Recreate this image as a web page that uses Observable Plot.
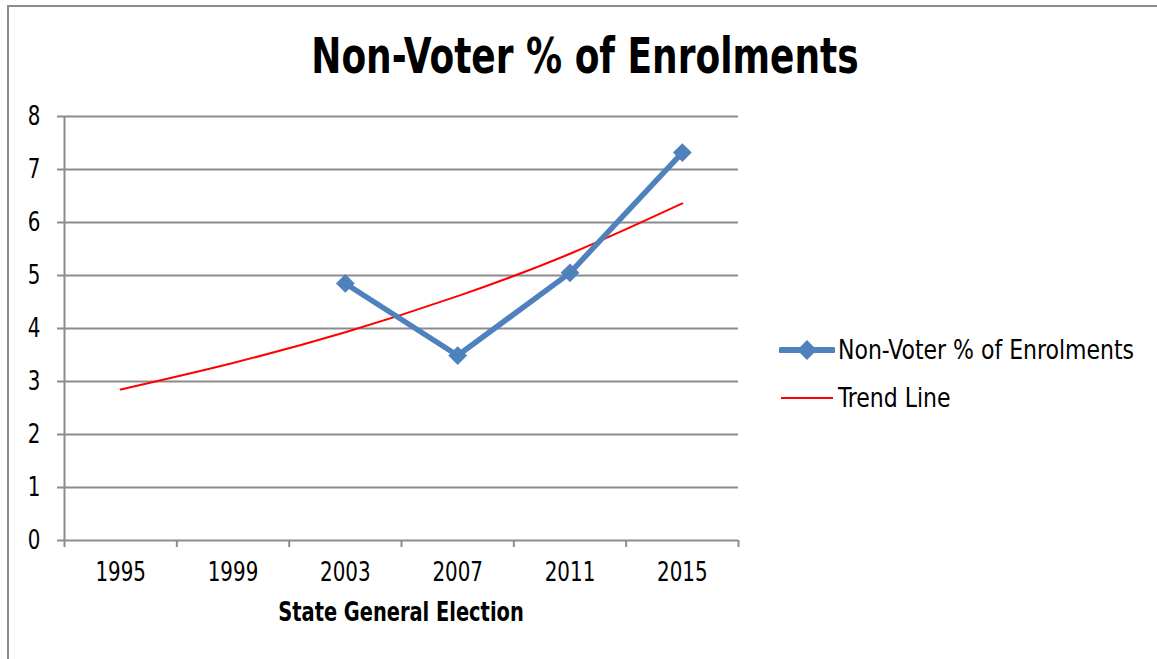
<!DOCTYPE html>
<html>
<head>
<meta charset="utf-8">
<script src="https://cdn.jsdelivr.net/npm/d3@7"></script>
<script src="https://cdn.jsdelivr.net/npm/@observablehq/plot@0.6"></script>
<style>
  html, body { margin: 0; padding: 0; background: #fff; }
  body { width: 1157px; height: 659px; overflow: hidden; position: relative;
         font-family: "Liberation Sans Narrow", "Arial Narrow", "DejaVu Sans Condensed", sans-serif; font-stretch: condensed; }
  #frame { position: absolute; left: 7px; top: 5px; width: 1200px; height: 700px; border-left: 2px solid #8c8c8c; border-top: 2px solid #8c8c8c; }
  #chart { position: absolute; left: 0; top: 0; }
  .txt { position: absolute; white-space: nowrap; color: #000; }
  #title { left: 585px; top: 26px; font-weight: bold; font-size: 50px; line-height: 60px; transform: translateX(-50%) scaleX(0.8); }
  #xlabel { left: 401px; top: 596px; font-weight: bold; font-size: 26px; line-height: 32px; transform: translateX(-50%) scaleX(0.83); }
  #legend { position: absolute; left: 779px; top: 332px; font-size: 26px; color: #000; }
  .item { display: flex; align-items: center; height: 36px; margin-bottom: 12px; white-space: nowrap; }
  .item svg { margin-right: 3px; flex: none; }
  .item span { display: inline-block; transform-origin: left center; transform: scaleX(0.94); }
</style>
</head>
<body>
<div id="frame"></div>
<div id="chart"></div>
<div id="title" class="txt">Non-Voter % of Enrolments</div>
<div id="xlabel" class="txt">State General Election</div>
<div id="legend"></div>
<script>
const years = ["1995", "1999", "2003", "2007", "2011", "2015"];
const nonVoterPct = [null, null, 4.85, 3.49, 5.05, 7.32];
const trendLine = [2.85, 3.35, 3.93, 4.61, 5.41, 6.36];
const seriesNames = ["Non-Voter % of Enrolments", "Trend Line"];
const yTicks = [0, 1, 2, 3, 4, 5, 6, 7, 8];

const blue = "#4f81bd", red = "#ff0000", grid = "#8c8c8c";
const pos = years.map((_, i) => i + 0.5);
const actual = years.map((y, i) => ({x: pos[i], year: y, v: nonVoterPct[i]})).filter(d => d.v != null);
const trend = years.map((y, i) => ({x: pos[i], year: y, v: trendLine[i]}));

const font = '"Liberation Sans Narrow", "Arial Narrow", "DejaVu Sans Condensed", sans-serif';
const chart = Plot.plot({
  width: 1157, height: 659,
  marginLeft: 64, marginRight: 419, marginTop: 116, marginBottom: 119,
  style: {fontFamily: font, fontSize: "26px", color: "#000", background: "transparent", overflow: "visible"},
  x: {domain: [0, years.length], axis: null},
  y: {domain: [0, 8], axis: null},
  marks: [
    Plot.gridY(yTicks.filter(t => t > 0), {stroke: grid, strokeOpacity: 1, strokeWidth: 2}),
    Plot.axisY({ticks: yTicks, tickSize: 7, tickPadding: 17, stroke: grid, strokeWidth: 2, fontSize: 26, label: null}),
    Plot.axisX({ticks: d3.range(years.length + 1), tickFormat: () => "", tickSize: 7, stroke: grid, strokeWidth: 2, label: null}),
    Plot.axisX({ticks: pos, tickFormat: (d, i) => years[i], tickSize: 0, tickPadding: 22, fontSize: 26, label: null}),
    Plot.ruleX([0], {stroke: grid, strokeWidth: 2}),
    Plot.ruleY([0], {stroke: grid, strokeWidth: 2}),
    Plot.line(trend, {x: "x", y: "v", stroke: red, strokeWidth: 2, curve: "natural"}),
    Plot.line(actual, {x: "x", y: "v", stroke: blue, strokeWidth: 5.5, strokeLinejoin: "miter"}),
    Plot.dot(actual, {x: "x", y: "v", symbol: "square", r: 7.5, rotate: 45, fill: blue, stroke: "none"})
  ]
});
// narrow the tick labels horizontally to approximate the condensed face
d3.select(chart).selectAll("g[aria-label$='tick label'] text").each(function() {
  const t = this.getAttribute("transform") || "";
  this.setAttribute("transform", t + " scale(0.85,1)");
});
document.getElementById("chart").appendChild(chart);

const legend = document.getElementById("legend");
seriesNames.forEach((name, i) => {
  const item = document.createElement("div");
  item.className = "item";
  const sw = i === 0
    ? `<svg width="56" height="22"><line x1="2" x2="54" y1="11" y2="11" stroke="${blue}" stroke-width="6" stroke-linecap="round"/><rect x="21" y="4" width="14" height="14" fill="${blue}" transform="rotate(45 28 11)"/></svg>`
    : `<svg width="56" height="22"><line x1="2" x2="54" y1="11" y2="11" stroke="${red}" stroke-width="2"/></svg>`;
  item.innerHTML = sw + `<span>${name}</span>`;
  legend.appendChild(item);
});
</script>
</body>
</html>
